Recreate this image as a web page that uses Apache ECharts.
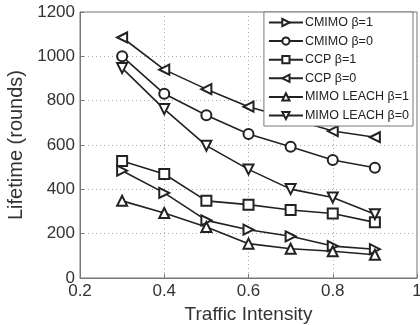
<!DOCTYPE html>
<html><head><meta charset="utf-8">
<script src="https://cdn.jsdelivr.net/npm/echarts@6/dist/echarts.min.js"></script>
<style>html,body{margin:0;padding:0;background:#fff}#c{width:420px;height:325px}</style>
</head><body><div id="c"></div>
<script>
const traffic = [0.3, 0.4, 0.5, 0.6, 0.7, 0.8, 0.9];
const cmimoB1 = [484, 384, 260, 218, 188, 144, 130];
const cmimoB0 = [1000, 831, 734, 650, 592, 532, 497];
const ccpB1 = [528, 469, 348, 331, 307, 291, 251];
const ccpB0 = [1085, 940, 852, 773, 720, 663, 635];
const leachB1 = [348, 293, 230, 155, 132, 121, 105];
const leachB0 = [947, 762, 597, 490, 401, 363, 288];
const seriesNames = ['CMIMO β=1','CMIMO β=0','CCP β=1','CCP β=0','MIMO LEACH β=1','MIMO LEACH β=0'];
const xTicks = [0.2, 0.4, 0.6, 0.8, 1];
const yTicks = [0, 200, 400, 600, 800, 1000, 1200];

const defs = [
  [cmimoB1, 'emptyTriangle', -90],
  [cmimoB0, 'emptyCircle', 0],
  [ccpB1, 'emptyRect', 0],
  [ccpB0, 'emptyTriangle', 90],
  [leachB1, 'emptyTriangle', 0],
  [leachB0, 'emptyTriangle', 180]
];
const font = 'Liberation Sans, Arial, sans-serif';
const chart = echarts.init(document.getElementById('c'));
chart.setOption({
  animation: false,
  backgroundColor: '#fff',
  grid: {left: 80, right: 3, top: 12, bottom: 47, show: true, borderColor: '#777', borderWidth: 1,
         containLabel: false, outerBoundsMode: 'none'},
  legend: {
    orient: 'vertical', right: 7, top: 12, z: 20,
    data: seriesNames,
    backgroundColor: '#fff', borderColor: '#777', borderWidth: 1,
    padding: [4, 4, 4, 4],
    itemWidth: 34, itemHeight: 9, itemGap: 5.6,
    textStyle: {fontFamily: font, fontSize: 12.5, color: '#222', padding: [0,0,0,-3]}
  },
  xAxis: {
    type: 'value', min: 0.2, max: 1, interval: 0.2,
    name: 'Traffic Intensity', nameLocation: 'middle', nameGap: 22,
    nameTextStyle: {fontFamily: font, fontSize: 19, color: '#333'},
    axisLine: {show: true, lineStyle: {color: '#777'}},
    axisTick: {inside: true, length: 4, lineStyle: {color: '#777'}},
    axisLabel: {fontFamily: font, fontSize: 17, color: '#333', margin: 5,
      formatter: v => { const t = xTicks.find(k => Math.abs(k - v) < 1e-6); return t === undefined ? '' : String(t); }},
    splitLine: {show: true, lineStyle: {type: [1, 3], color: '#aaa'}}
  },
  yAxis: {
    type: 'value', min: 0, max: 1200, interval: 200,
    name: 'Lifetime (rounds)', nameLocation: 'middle', nameGap: 40,
    nameTextStyle: {fontFamily: font, fontSize: 20, color: '#333'},
    axisLine: {show: true, lineStyle: {color: '#777'}},
    axisTick: {inside: true, length: 4, lineStyle: {color: '#777'}},
    axisLabel: {fontFamily: font, fontSize: 17, color: '#333', margin: 5,
      formatter: v => { const t = yTicks.find(k => k === v); return t === undefined ? '' : String(t); }},
    splitLine: {show: true, lineStyle: {type: [1, 3], color: '#aaa'}}
  },
  series: defs.map((d, i) => ({
    name: seriesNames[i], type: 'line',
    data: traffic.map((x, j) => [x, d[0][j]]),
    symbol: d[1], symbolRotate: d[2], symbolSize: 10,
    lineStyle: {color: '#222', width: 1.6},
    itemStyle: {color: '#222', borderColor: '#222', borderWidth: 1.3},
    z: 3 + i
  }))
});
</script></body></html>
